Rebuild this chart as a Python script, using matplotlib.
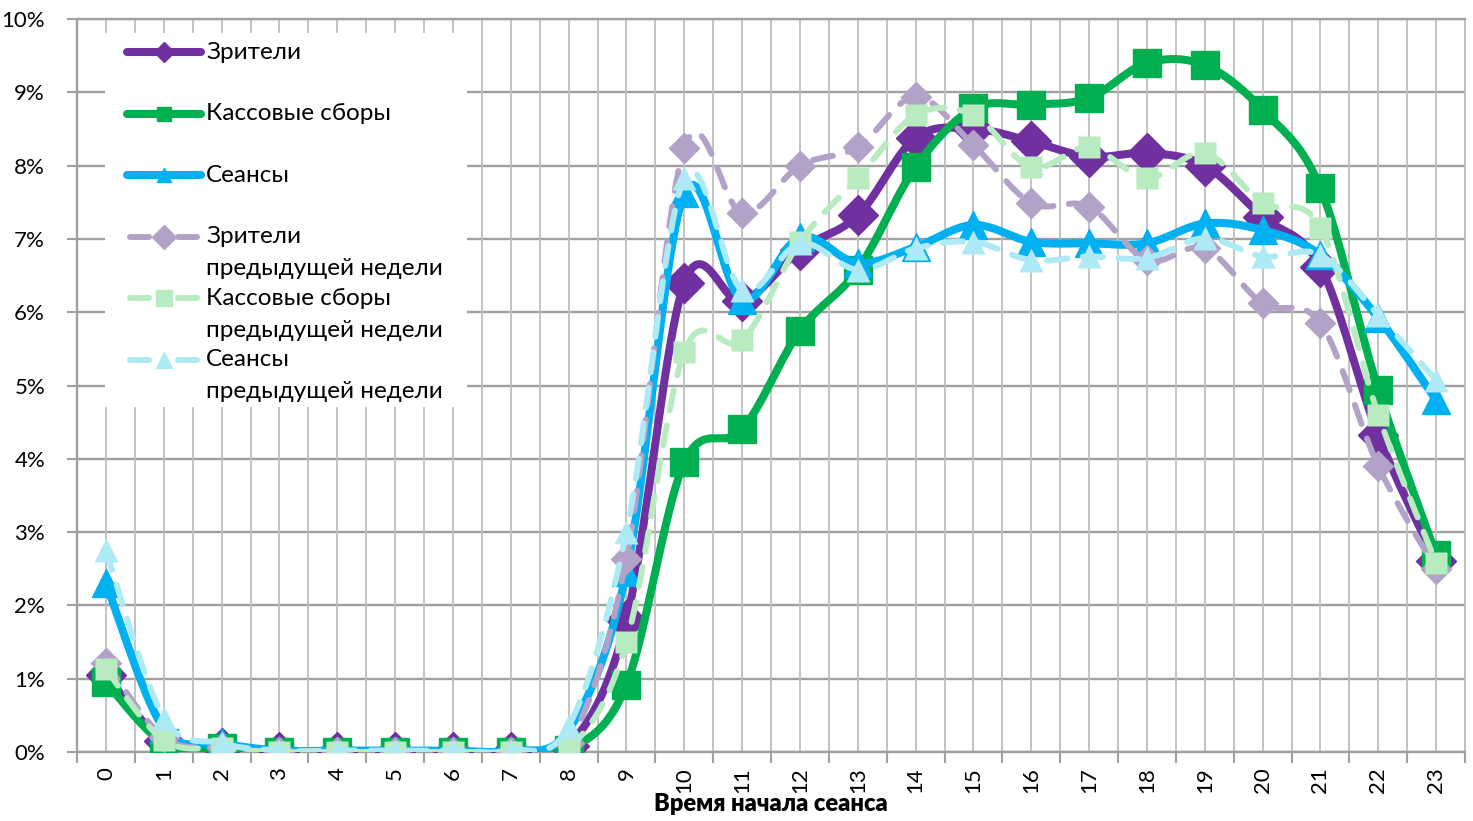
"""
Доля зрителей, кассовых сборов и сеансов по времени начала сеанса.
"""

import numpy as np
import matplotlib.pyplot as plt
from matplotlib.lines import Line2D
from matplotlib.patches import Rectangle

plt.rcParams["font.family"] = ["Lato", "DejaVu Sans"]

hours = list(range(24))

viewers = [1.05, 0.15, 0.05, 0.0, 0.0, 0.0, 0.0, 0.0, 0.08, 1.8, 6.4, 6.15,
           6.85, 7.32, 8.38, 8.5, 8.33, 8.12, 8.17, 8.0, 7.3, 6.62, 4.32, 2.6]
box_office = [0.95, 0.12, 0.05, 0.0, 0.0, 0.0, 0.0, 0.0, 0.03, 0.92, 3.95, 4.4,
              5.75, 6.58, 7.98, 8.78, 8.83, 8.92, 9.4, 9.37, 8.76, 7.69, 4.94, 2.69]
sessions = [2.3, 0.32, 0.12, 0.02, 0.02, 0.02, 0.02, 0.02, 0.3, 2.46, 7.62, 6.17,
            7.02, 6.67, 6.89, 7.19, 6.96, 6.94, 6.94, 7.21, 7.12, 6.78, 5.92, 4.8]

viewers_prev = [1.22, 0.2, 0.05, 0.0, 0.0, 0.0, 0.0, 0.0, 0.12, 2.64, 8.24, 7.35,
                8.0, 8.25, 8.94, 8.28, 7.49, 7.44, 6.71, 6.87, 6.12, 5.85, 3.9, 2.5]
box_office_prev = [1.13, 0.16, 0.05, 0.0, 0.0, 0.0, 0.0, 0.0, 0.05, 1.5, 5.46, 5.62,
                   6.96, 7.83, 8.69, 8.69, 7.98, 8.25, 7.83, 8.17, 7.49, 7.15, 4.6, 2.58]
sessions_prev = [2.75, 0.47, 0.12, 0.02, 0.02, 0.02, 0.02, 0.02, 0.35, 3.0, 7.83, 6.3,
                 6.94, 6.58, 6.87, 6.96, 6.71, 6.76, 6.74, 7.01, 6.76, 6.78, 5.96, 5.07]

labels = ["Зрители", "Кассовые сборы", "Сеансы",
          "Зрители\nпредыдущей недели",
          "Кассовые сборы\nпредыдущей недели",
          "Сеансы\nпредыдущей недели"]


def smooth(x, y, steps=20):
    """Bezier smoothing through every point, like Excel's smoothed lines."""
    x = np.asarray(x, float)
    y = np.asarray(y, float)
    xs, ys = [], []
    n = len(x)
    for i in range(n - 1):
        i0 = max(i - 1, 0)
        i3 = min(i + 2, n - 1)
        p0, p1, p2, p3 = (np.array([x[j], y[j]]) for j in (i0, i, i + 1, i3))
        c1 = p1 + (p2 - p0) / 6
        c2 = p2 - (p3 - p1) / 6
        t = np.linspace(0, 1, steps, endpoint=(i == n - 2))[:, None]
        pts = ((1 - t) ** 3 * p1 + 3 * (1 - t) ** 2 * t * c1
               + 3 * (1 - t) * t ** 2 * c2 + t ** 3 * p2)
        xs.extend(pts[:, 0])
        ys.extend(pts[:, 1])
    return np.array(xs), np.array(ys)


# (values, colour, marker, marker size, solid?)
series = [
    (viewers, "#7030A0", "D", 20, True),
    (box_office, "#00B050", "s", 20, True),
    (sessions, "#00B0F0", "^", 20, True),
    (viewers_prev, "#B3A2C7", "D", 16, False),
    (box_office_prev, "#B8EBC0", "s", 16, False),
    (sessions_prev, "#AEEAF6", "^", 17, False),
]

fig = plt.figure(figsize=(14.73, 8.21), dpi=100)
ax = fig.add_axes([0.0523, 0.084, 0.9423, 0.8929])

for k, (vals, color, marker, ms, solid) in enumerate(series):
    sx, sy = smooth(hours, vals)
    if solid:
        ax.plot(sx, sy, color=color, lw=5.8, solid_capstyle="round",
                solid_joinstyle="round", zorder=3 + k)
        ax.plot(hours, vals, ls="none", marker=marker, ms=ms, color=color,
                mec=color, zorder=3 + k)
    else:
        ax.plot(sx, sy, color=color, lw=4.3, dashes=(3.4, 2.6),
                dash_capstyle="round", zorder=3 + k)
        ax.plot(hours, vals, ls="none", marker=marker, ms=ms, color=color,
                mec="none", zorder=3 + k)

ax.set_xlim(-0.5, 23.5)
ax.set_ylim(0, 10)

# labels at the hours, tick marks between them
ax.set_xticks(hours)
ax.set_xticklabels([str(h) for h in hours], rotation=90, fontsize=16)
ax.set_xticks(np.arange(-0.5, 24, 1), minor=True)
ax.tick_params(axis="x", which="major", length=0, pad=11)
ax.tick_params(axis="x", which="minor", length=8, width=1.5, color="#A0A0A0")

ax.set_yticks(range(0, 11))
ax.set_yticklabels([f"{v}%" for v in range(0, 11)], fontsize=16)
ax.tick_params(axis="y", length=7, width=1.5, color="#A0A0A0", pad=16)

# vertical grid every half hour, horizontal every percent
for xv in np.arange(-0.5, 24, 0.5):
    ax.axvline(xv, color="#BEBEBE", lw=1.3, zorder=1)
ax.grid(axis="y", color="#A0A0A0", lw=1.7, zorder=1)
ax.set_axisbelow(True)

for side in ["left", "bottom", "top"]:
    ax.spines[side].set_color("#A0A0A0")
    ax.spines[side].set_linewidth(1.7)
ax.spines["right"].set_color("#BEBEBE")
ax.spines["right"].set_linewidth(1.3)

ax.set_xlabel("Время начала сеанса", fontsize=17, fontweight="heavy", labelpad=0)

# legend on a white panel in the upper left
ax.add_patch(Rectangle((0.020, 0.471), 0.261, 0.51, transform=ax.transAxes,
                       facecolor="white", edgecolor="none", zorder=10))
row_y = 0.9545
row_step = 0.0839
line_gap = 0.0437
for k, ((vals, color, marker, ms, solid), label) in enumerate(zip(series, labels)):
    y = row_y - k * row_step
    if solid:
        ax.add_line(Line2D([0.036, 0.089], [y, y], transform=ax.transAxes,
                           color=color, lw=5.8, solid_capstyle="round", zorder=11))
        ax.add_line(Line2D([0.063], [y], transform=ax.transAxes, ls="none",
                           marker=marker, ms=10, color=color, zorder=12))
    else:
        for x0, x1 in [(0.0385, 0.052), (0.073, 0.0865)]:
            ax.add_line(Line2D([x0, x1], [y, y], transform=ax.transAxes,
                               color=color, lw=4.3, solid_capstyle="round", zorder=11))
        ax.add_line(Line2D([0.063], [y], transform=ax.transAxes, ls="none",
                           marker=marker, ms=12, color=color, zorder=12))
    for j, part in enumerate(label.split("\n")):
        ax.text(0.093, y - j * line_gap, part, transform=ax.transAxes,
                fontsize=17.5, va="center", ha="left", zorder=12)

fig.savefig("out.png", dpi=100)
